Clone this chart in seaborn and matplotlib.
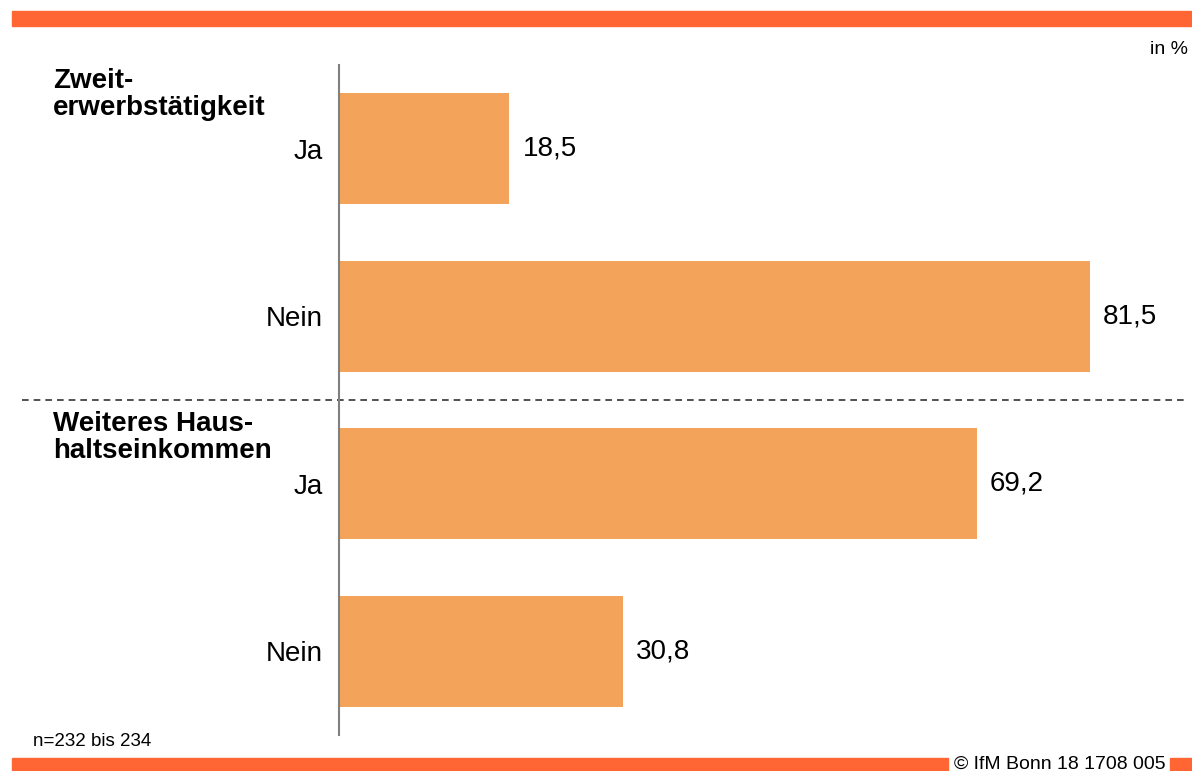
import matplotlib
matplotlib.use('Agg')
import matplotlib.pyplot as plt
import seaborn as sns
import pandas as pd
from matplotlib.patches import Rectangle

# data
groups = ['Zweit-\nerwerbstätigkeit', 'Weiteres Haus-\nhaltseinkommen']
answers = ['Ja', 'Nein', 'Ja', 'Nein']
group_of_row = [0, 0, 1, 1]
values = [18.5, 81.5, 69.2, 30.8]

df = pd.DataFrame({
    'id': [f'{g}_{a}' for g, a in zip(group_of_row, answers)],
    'answer': answers,
    'value': values,
})

sns.set_theme(style='white')
plt.rcParams['font.family'] = ['Liberation Sans', 'DejaVu Sans']
plt.rcParams['text.color'] = 'black'
plt.rcParams['ytick.color'] = 'black'

W, H = 1192, 771
fig = plt.figure(figsize=(W / 100, H / 100), dpi=100)

# axes in pixel coords: left 339, right 1180, top 65, bottom 735
ax = fig.add_axes([339 / W, 1 - 735 / H, (1180 - 339) / W, (735 - 65) / H])
sns.barplot(data=df, x='value', y='id', color='#F4A35A', saturation=1,
            width=0.66, ax=ax)
for p in ax.patches:
    p.set_edgecolor('none')

xmax = (1180 - 339) / 9.215
ax.set_xlim(0, xmax)
ax.set_ylim(3.5, -0.5)
ax.set_xlabel('')
ax.set_ylabel('')
ax.set_xticks([])
ax.set_yticks(range(len(answers)))
ax.set_yticklabels(answers, fontsize=20, color='black')
ax.tick_params(axis='y', length=0, pad=12)
for s in ['top', 'right', 'bottom']:
    ax.spines[s].set_visible(False)
ax.spines['left'].set_color('#808080')
ax.spines['left'].set_linewidth(1.5)

for i, v in enumerate(values):
    ax.text(v + 1.4, i, f'{v:.1f}'.replace('.', ','), va='center', ha='left',
            fontsize=20, color='black')

# dashed separator between the two groups
ax.axhline(1.5, xmin=(22 - 339) / (1180 - 339), xmax=(1186 - 339) / (1180 - 339),
           color='#333333', linestyle=(0, (4, 3)), linewidth=1.2, clip_on=False)

# group headings
fig.text(53 / W, 1 - 68 / H, groups[0], ha='left', va='top', fontsize=20,
         fontweight='bold', linespacing=1.07)
fig.text(53 / W, 1 - 411 / H, groups[1], ha='left', va='top', fontsize=20,
         fontweight='bold', linespacing=1.07)

# decorative bars
fig.patches.append(Rectangle((12 / W, 1 - 26 / H), (W - 12) / W, 15 / H,
                             transform=fig.transFigure, color='#FF6633', zorder=0))
fig.patches.append(Rectangle((12 / W, 1 - 770 / H), (948 - 12) / W, 12 / H,
                             transform=fig.transFigure, color='#FF6633', zorder=0))
fig.patches.append(Rectangle((1170 / W, 1 - 770 / H), (W - 1170) / W, 12 / H,
                             transform=fig.transFigure, color='#FF6633', zorder=0))

fig.text(1188 / W, 1 - 50 / H, 'in %', ha='right', va='center', fontsize=14)
fig.text(33 / W, 1 - 741 / H, 'n=232 bis 234', ha='left', va='center', fontsize=13.5)
fig.text(1166 / W, 1 - 764 / H, '© IfM Bonn 18 1708 005', ha='right', va='center',
         fontsize=14)

fig.savefig('out.png', dpi=100)
